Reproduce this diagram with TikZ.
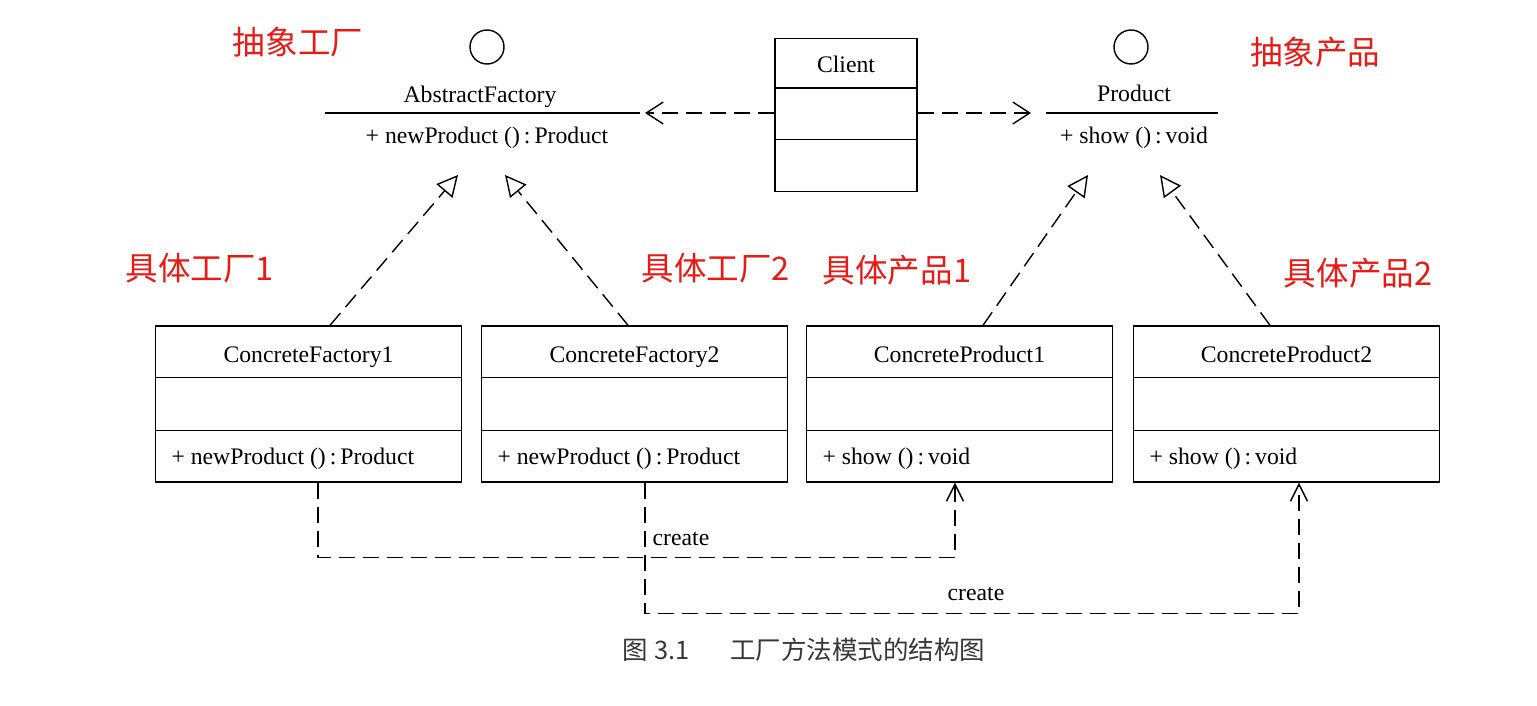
\documentclass[tikz,border=0pt]{standalone}
\usepackage{fontspec}
\setmainfont{Liberation Serif}
\newfontfamily\cjk{Noto Sans CJK SC}
\usetikzlibrary{arrows.meta}
\definecolor{notered}{RGB}{232,26,22}
\definecolor{capgray}{RGB}{55,55,55}
\tikzset{
  classbox/.style={draw, minimum width=6.12cm, minimum height=3.12cm, inner sep=0pt},
  txt/.style={inner sep=0pt, anchor=base, font=\fontsize{13.5}{15}\selectfont},
  note/.style={inner sep=0pt, text=notered, font=\cjk\fontsize{18.5}{20}\selectfont},
  dashline/.style={dash pattern=on 0.32cm off 0.16cm},
  dep/.style={dashline, -{Straight Barb[length=0.34cm, width=0.44cm]}},
  realize/.style={dashline, -{Triangle[open, length=0.42cm, width=0.42cm]}},
  create/.style={dashline, -{Straight Barb[length=0.34cm, width=0.34cm]}}
}
\begin{document}
\begin{tikzpicture}[x=0.02cm, y=-0.02cm, line width=0.8pt]
\useasboundingbox (0,0) rectangle (1537,706);

% the four concrete classes
\foreach \n/\x/\title/\op in {cf1/308.5/ConcreteFactory1/{+ newProduct ()\,:\,Product},
    cf2/634.5/ConcreteFactory2/{+ newProduct ()\,:\,Product},
    cp1/959.5/ConcreteProduct1/{+ show ()\,:\,void},
    cp2/1286.5/ConcreteProduct2/{+ show ()\,:\,void}}
{
    \node[classbox] (\n) at (\x,404) {};
    \draw ([yshift=-1.04cm]\n.north west) -- ([yshift=-1.04cm]\n.north east);
    \draw ([yshift=-2.1cm]\n.north west) -- ([yshift=-2.1cm]\n.north east);
    \node[txt] (\n-title) at ([yshift=-0.74cm]\n.north) {\title};
    \node[txt, anchor=base west] (\n-op) at ([xshift=0.32cm,yshift=-2.78cm]\n.north west) {\op};
}

% client
\node[classbox, minimum width=2.84cm, minimum height=3.06cm] (client) at (846,115) {};
\draw ([yshift=-1.0cm]client.north west) -- ([yshift=-1.0cm]client.north east);
\draw ([yshift=-2.04cm]client.north west) -- ([yshift=-2.04cm]client.north east);
\node[txt] (client-title) at ([yshift=-0.7cm]client.north) {Client};

% interfaces
\node[draw, circle, minimum size=0.68cm, inner sep=0pt] (af-dot) at (487,47) {};
\node[txt] (af-title) at (480,103) {AbstractFactory};
\coordinate (afL) at (325,113);  \coordinate (afR) at (640,113);
\draw (afL) -- (afR);
\node[txt] (af-op) at (487,143) {+ newProduct ()\,:\,Product};

\node[draw, circle, minimum size=0.68cm, inner sep=0pt] (pr-dot) at (1131,47) {};
\node[txt] (pr-title) at (1134,102) {Product};
\coordinate (prL) at (1046,113);  \coordinate (prR) at (1218,113);
\draw (prL) -- (prR);
\node[txt] (pr-op) at (1134,143) {+ show ()\,:\,void};

\draw[dep] (client.west |- afR) -- ([xshift=0.1cm]afR);
\draw[dep] (client.east |- prL) -- ([xshift=-0.3cm]prL);

% realizations
\coordinate (afT1) at (458,175);  \coordinate (afT2) at (505,175);
\coordinate (prT1) at (1088,175); \coordinate (prT2) at (1160,175);
\draw[realize] ([xshift=0.43cm]cf1.north) -- (afT1);
\draw[realize] ([xshift=-0.13cm]cf2.north) -- (afT2);
\draw[realize] ([xshift=0.47cm]cp1.north) -- (prT1);
\draw[realize] ([xshift=-0.33cm]cp2.north) -- (prT2);

% create
\draw[create] ([xshift=0.19cm]cf1.south) -- ++(0,75) -| ([xshift=-0.09cm]cp1.south);
\draw[create] ([xshift=0.21cm]cf2.south) -- ++(0,131) -| ([xshift=0.25cm]cp2.south);
\node[txt] (create1) at (681,545) {create};
\node[txt] (create2) at (976,600) {create};

% red notes
\node[note] (n-af) at (298,42) {抽象工厂};
\node[note] (n-pr) at (1315,52) {抽象产品};
\node[note] (n-cf1) at (200,268) {具体工厂1};
\node[note] (n-cf2) at (716,268) {具体工厂2};
\node[note] (n-cp1) at (897,270) {具体产品1};
\node[note] (n-cp2) at (1358,273) {具体产品2};

\node[inner sep=0pt, text=capgray, font=\cjk\fontsize{14.5}{16}\selectfont] (caption) at (804,650)
    {图~3.1\hspace{1.6em}工厂方法模式的结构图};
\end{tikzpicture}
\end{document}
